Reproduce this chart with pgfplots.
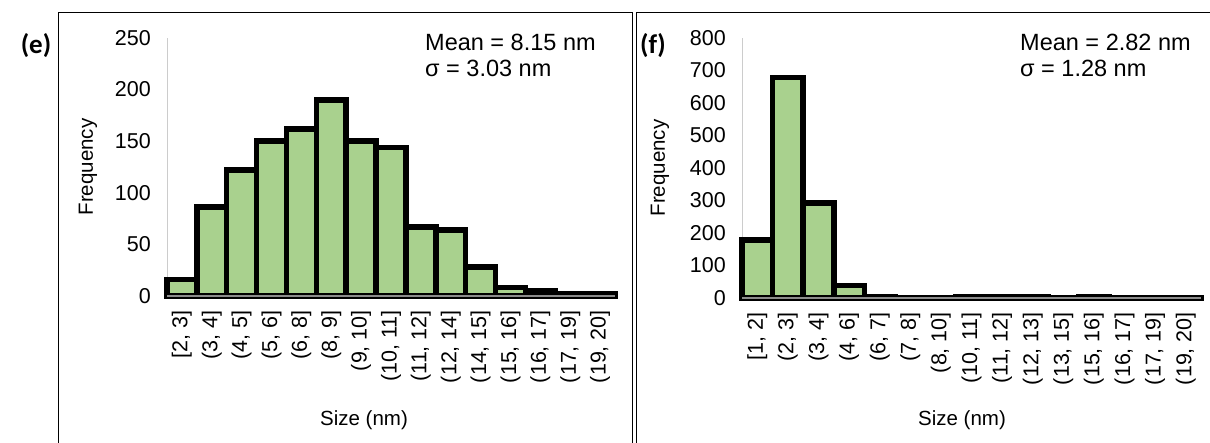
\documentclass[border=0pt]{standalone}
\usepackage{pgfplots}
\pgfplotsset{compat=1.18}
\usepackage{fontspec}
\setmainfont{Liberation Sans}
\newfontfamily\labfont{Carlito}
\definecolor{barg}{RGB}{169,209,142}

\pgfplotsset{
 histo/.style={
  scale only axis, clip=false,
  ybar, bar width=1, bar shift=0pt,
  xmin=-0.5, xmax=14.5, ymin=0,
  xtick={0,...,14},
  axis x line*=bottom, axis y line*=left,
  x axis line style={black, line width=4.5pt, -},
  y axis line style={black!20, line width=0.8pt, -},
  major tick length=0pt,
  /pgf/number format/assume math mode=true,
  yticklabel style={font=\fontsize{21.5}{24}\selectfont, inner sep=0pt},
  yticklabel shift=16pt,
  xticklabel style={rotate=90, anchor=east, inner sep=0pt, font=\fontsize{21.5}{24}\selectfont},
  xticklabel shift=14pt,
  every axis y label/.style={rotate=90, anchor=center, font=\fontsize{20.5}{24}\selectfont},
  after end axis/.code={\draw[black!45, line width=1.8pt] (rel axis cs:0,0) -- (rel axis cs:1,0);},
 },
 histbar/.style={fill=barg, draw=black, line width=5.5pt},
}

\begin{document}
\begin{tikzpicture}
\useasboundingbox (0,0) rectangle (1210pt,442pt);
% frames
\draw[line width=0.8pt] (58pt,-5pt) -- (58pt,430pt) -- (632pt,430pt) -- (632pt,-5pt);
\draw[line width=0.8pt] (636pt,-5pt) -- (636pt,430pt) -- (1215pt,430pt);

% (e)
\begin{axis}[histo,
  at={(167pt,146pt)}, anchor=south west,
  width=448pt, height=258pt,
  ymax=250, ytick={0,50,100,150,200,250},
  xticklabels={{[2, 3]},{(3, 4]},{(4, 5]},{(5, 6]},{(6, 8]},{(8, 9]},{(9, 10]},{(10, 11]},{(11, 12]},{(12, 14]},{(14, 15]},{(15, 16]},{(16, 17]},{(17, 19]},{(19, 20]}},
  ylabel={Frequency},
  every axis y label/.append style={at={([xshift=-79pt]axis description cs:0,0.5)}},
]
\addplot[histbar] coordinates {
 (0,16) (1,86) (2,122) (3,150) (4,162) (5,190) (6,150) (7,144)
 (8,67) (9,64) (10,28) (11,8) (12,5) (13,2) (14,2)};
\end{axis}

% (f)
\begin{axis}[histo,
  at={(742pt,144pt)}, anchor=south west,
  width=459pt, height=260pt,
  ymax=800, ytick={0,100,...,800},
  xticklabels={{[1, 2]},{(2, 3]},{(3, 4]},{(4, 6]},{(6, 7]},{(7, 8]},{(8, 10]},{(10, 11]},{(11, 12]},{(12, 13]},{(13, 15]},{(15, 16]},{(16, 17]},{(17, 19]},{(19, 20]}},
  ylabel={Frequency},
  every axis y label/.append style={at={([xshift=-82pt]axis description cs:0,0.5)}},
]
\addplot[histbar] coordinates {
 (0,178) (1,679) (2,292) (3,39) (4,5) (5,2) (6,2) (7,4)
 (8,4) (9,3) (10,2) (11,4) (12,2) (13,2) (14,2)};
\end{axis}

% labels
\node[font=\labfont\bfseries\fontsize{27}{30}\selectfont, anchor=center] at (36pt,396pt) {(e)};
\node[font=\labfont\bfseries\fontsize{27}{30}\selectfont, anchor=center] at (653pt,396pt) {(f)};

\node[font=\fontsize{23.5}{28}\selectfont, anchor=west, inner sep=0pt] at (425pt,400pt) {Mean = 8.15 nm};
\node[font=\fontsize{23.5}{28}\selectfont, anchor=west, inner sep=0pt] at (425pt,374pt) {σ = 3.03 nm};
\node[font=\fontsize{23.5}{28}\selectfont, anchor=west, inner sep=0pt] at (1020pt,400pt) {Mean = 2.82 nm};
\node[font=\fontsize{23.5}{28}\selectfont, anchor=west, inner sep=0pt] at (1020pt,374pt) {σ = 1.28 nm};

\node[font=\fontsize{20.5}{24}\selectfont] at (364pt,22pt) {Size (nm)};
\node[font=\fontsize{20.5}{24}\selectfont] at (962pt,22pt) {Size (nm)};
\end{tikzpicture}
\end{document}
